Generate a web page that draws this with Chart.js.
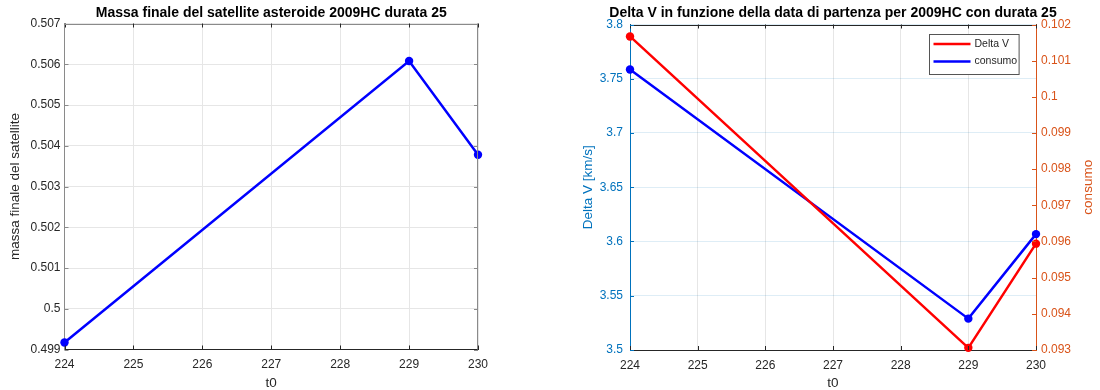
<!DOCTYPE html>
<html>
<head>
<meta charset="utf-8">
<title>2009HC durata 25</title>
<script src="https://cdn.jsdelivr.net/npm/chart.js@4.4.1/dist/chart.umd.min.js"></script>
<style>
  html, body { margin: 0; padding: 0; background: #fff; overflow: hidden; }
  .pane { position: absolute; top: 0; }
  #leftPane { left: 0; }
  #rightPane { left: 566px; }
</style>
</head>
<body>
<div class="pane" id="leftPane"><canvas id="massaChart" width="500" height="390"></canvas></div>
<div class="pane" id="rightPane"><canvas id="deltaVChart" width="534" height="390"></canvas></div>
<script>
// data
const t0 = [224, 229, 230];
const massaFinale = [0.49917, 0.50608, 0.50378];
const deltaV = [3.7585, 3.5289, 3.6068];     // left axis
const consumo = [0.10167, 0.09306, 0.09594]; // right axis

// tick labels
const t0Ticks = [224, 225, 226, 227, 228, 229, 230];
const massaTicks = [0.499, 0.5, 0.501, 0.502, 0.503, 0.504, 0.505, 0.506, 0.507];
const deltaVTicks = [3.5, 3.55, 3.6, 3.65, 3.7, 3.75, 3.8];
const consumoTicks = [0.093, 0.094, 0.095, 0.096, 0.097, 0.098, 0.099, 0.1, 0.101, 0.102];

const BLUE = '#0000ff';
const RED = '#ff0000';
const AX_BLUE = '#0072bd';
const AX_ORANGE = '#d95319';
const INK = '#262626';
const GRID = '#e6e6e6';

Chart.defaults.font.family = '"Liberation Sans", Arial, Helvetica, sans-serif';
Chart.defaults.color = INK;

const points = (xs, ys) => xs.map((x, i) => ({ x: x, y: ys[i] }));
const fixedTicks = arr => scale => { scale.ticks = arr.map(v => ({ value: v })); };
const fmt = v => String(parseFloat(Number(v).toFixed(4)));

// top edge, optional right edge and inward tick marks (matlab style box)
const axesBox = {
  id: 'axesBox',
  afterDatasetsDraw(chart, args, opts) {
    const { ctx, chartArea: a } = chart;
    const len = opts.tickLength;
    ctx.save();
    ctx.lineWidth = 1;
    ctx.strokeStyle = opts.edgeColor;
    ctx.beginPath();
    ctx.moveTo(a.left, Math.round(a.top) + 0.5);
    ctx.lineTo(a.right, Math.round(a.top) + 0.5);
    if (opts.rightEdge) {
      ctx.moveTo(Math.round(a.right) - 0.5, a.top);
      ctx.lineTo(Math.round(a.right) - 0.5, a.bottom);
    }
    ctx.stroke();
    Object.values(chart.scales).forEach(s => {
      ctx.strokeStyle = s.options.border.color;
      ctx.beginPath();
      s.ticks.forEach(t => {
        const p = Math.round(s.getPixelForValue(t.value)) + 0.5;
        if (s.isHorizontal()) {
          ctx.moveTo(p, a.bottom); ctx.lineTo(p, a.bottom - len);
          ctx.moveTo(p, a.top); ctx.lineTo(p, a.top + len);
        } else {
          if (s.position === 'left') { ctx.moveTo(a.left, p); ctx.lineTo(a.left + len, p); }
          if (s.position === 'right' || opts.rightEdge) { ctx.moveTo(a.right, p); ctx.lineTo(a.right - len, p); }
        }
      });
      ctx.stroke();
    });
    ctx.restore();
  }
};

// rotated title for the right axis, reading bottom to top
const rightTitle = {
  id: 'rightTitle',
  afterDraw(chart, args, opts) {
    if (!opts.text) return;
    const { ctx, chartArea: a } = chart;
    const s = chart.scales[opts.scaleId];
    ctx.save();
    ctx.translate(s.right - opts.offset, (a.top + a.bottom) / 2);
    ctx.rotate(-Math.PI / 2);
    ctx.font = opts.font;
    ctx.fillStyle = opts.color;
    ctx.textAlign = 'center';
    ctx.textBaseline = 'middle';
    ctx.fillText(opts.text, 0, 0);
    ctx.restore();
  }
};

// boxed legend inside the plot, top right
const boxLegend = {
  id: 'boxLegend',
  afterDatasetsDraw(chart, args, opts) {
    if (!opts.display) return;
    const { ctx, chartArea: a } = chart;
    const items = chart.data.datasets.map(d => ({ text: d.label, color: d.borderColor }));
    ctx.save();
    ctx.font = opts.font;
    const textW = Math.max(...items.map(it => ctx.measureText(it.text).width));
    const w = 4 + opts.lineLength + 4 + textW + 2;
    const h = 40;
    const x = Math.round(a.right - 17 - w) + 0.5;
    const y = Math.round(a.top + 9.5) + 0.5;
    ctx.fillStyle = '#fff';
    ctx.fillRect(x, y, w, h);
    ctx.strokeStyle = '#555';
    ctx.lineWidth = 1;
    ctx.strokeRect(x, y, w, h);
    items.forEach((it, i) => {
      const cy = y + 9.5 + i * 17.4;
      ctx.strokeStyle = it.color;
      ctx.lineWidth = 2.5;
      ctx.beginPath();
      ctx.moveTo(x + 4, cy);
      ctx.lineTo(x + 4 + opts.lineLength, cy);
      ctx.stroke();
      ctx.fillStyle = INK;
      ctx.textAlign = 'left';
      ctx.textBaseline = 'middle';
      ctx.fillText(it.text, x + 8 + opts.lineLength, cy);
    });
    ctx.restore();
  }
};

const lineSet = (label, ys, color, axis) => ({
  label: label,
  data: points(t0, ys),
  yAxisID: axis,
  borderColor: color,
  backgroundColor: color,
  pointBackgroundColor: color,
  borderWidth: 2.5,
  pointRadius: 4.2,
  pointHoverRadius: 4.2,
  pointBorderWidth: 0,
  tension: 0,
  clip: false
});

const xAxis = height => ({
  type: 'linear',
  min: 224,
  max: 230,
  afterBuildTicks: fixedTicks(t0Ticks),
  afterFit: s => { s.height = height; },
  grid: { color: GRID, drawTicks: false },
  border: { color: INK, width: 1 },
  ticks: { autoSkip: false, maxRotation: 0, padding: 8, color: INK, font: { size: 12 } },
  title: { display: true, text: 't0', color: INK, font: { size: 13.5 }, padding: { top: 0, bottom: -1.5 } }
});

// Massa finale
new Chart(document.getElementById('massaChart'), {
  type: 'line',
  data: { datasets: [lineSet('massa finale', massaFinale, BLUE, 'y')] },
  options: {
    responsive: false,
    animation: false,
    events: [],
    layout: { padding: { left: 0, right: 22, top: 0, bottom: 0 } },
    plugins: {
      legend: { display: false },
      tooltip: { enabled: false },
      title: {
        display: true,
        fullSize: false,
        text: 'Massa finale del satellite asteroide 2009HC durata 25',
        color: '#000',
        font: { size: 14, weight: 'bold' },
        padding: { top: 4.7, bottom: 2 }
      },
      axesBox: { tickLength: 4, edgeColor: '#8a8a8a', rightEdge: true }
    },
    scales: {
      x: xAxis(40.5),
      y: {
        type: 'linear',
        min: 0.499,
        max: 0.507,
        afterBuildTicks: fixedTicks(massaTicks),
        afterFit: s => { s.width = 64.5; },
        grid: { color: GRID, drawTicks: false },
        border: { color: '#8a8a8a', width: 1 },
        ticks: { autoSkip: false, padding: 4, color: INK, font: { size: 12 }, callback: fmt },
        title: { display: true, text: 'massa finale del satellite', color: INK, font: { size: 13.5 }, padding: { top: 7, bottom: 0 } }
      }
    }
  },
  plugins: [axesBox]
});

// Delta V / consumo
new Chart(document.getElementById('deltaVChart'), {
  type: 'line',
  data: {
    datasets: [
      lineSet('Delta V', consumo, RED, 'y1'),
      lineSet('consumo', deltaV, BLUE, 'y')
    ]
  },
  options: {
    responsive: false,
    animation: false,
    events: [],
    layout: { padding: { left: 0, right: 0, top: 0, bottom: 0 } },
    plugins: {
      legend: { display: false },
      tooltip: { enabled: false },
      title: {
        display: true,
        text: 'Delta V in funzione della data di partenza per 2009HC con durata 25',
        color: '#000',
        font: { size: 14, weight: 'bold' },
        padding: { top: 5.2, bottom: 2.5 }
      },
      axesBox: { tickLength: 4, edgeColor: INK, rightEdge: false },
      rightTitle: { scaleId: 'y1', text: 'consumo', color: AX_ORANGE, font: '13.5px "Liberation Sans", Arial, sans-serif', offset: 12 },
      boxLegend: { display: true, lineLength: 37, font: '10.5px "Liberation Sans", Arial, sans-serif' }
    },
    scales: {
      x: xAxis(40),
      y: {
        type: 'linear',
        position: 'left',
        min: 3.5,
        max: 3.8,
        afterBuildTicks: fixedTicks(deltaVTicks),
        afterFit: s => { s.width = 64; },
        grid: { color: 'rgba(0,114,189,0.13)', drawTicks: false },
        border: { color: AX_BLUE, width: 1 },
        ticks: { autoSkip: false, padding: 7, color: AX_BLUE, font: { size: 12 }, callback: fmt },
        title: { display: true, text: 'Delta V [km/s]', color: AX_BLUE, font: { size: 13.5 }, padding: { top: 14, bottom: 0 } }
      },
      y1: {
        type: 'linear',
        position: 'right',
        min: 0.093,
        max: 0.102,
        afterBuildTicks: fixedTicks(consumoTicks),
        afterFit: s => { s.width = 64; },
        grid: { drawOnChartArea: false, drawTicks: false },
        border: { color: AX_ORANGE, width: 1 },
        ticks: { autoSkip: false, padding: 5, color: AX_ORANGE, font: { size: 12 }, callback: fmt }
      }
    }
  },
  plugins: [axesBox, rightTitle, boxLegend]
});
</script>
</body>
</html>
